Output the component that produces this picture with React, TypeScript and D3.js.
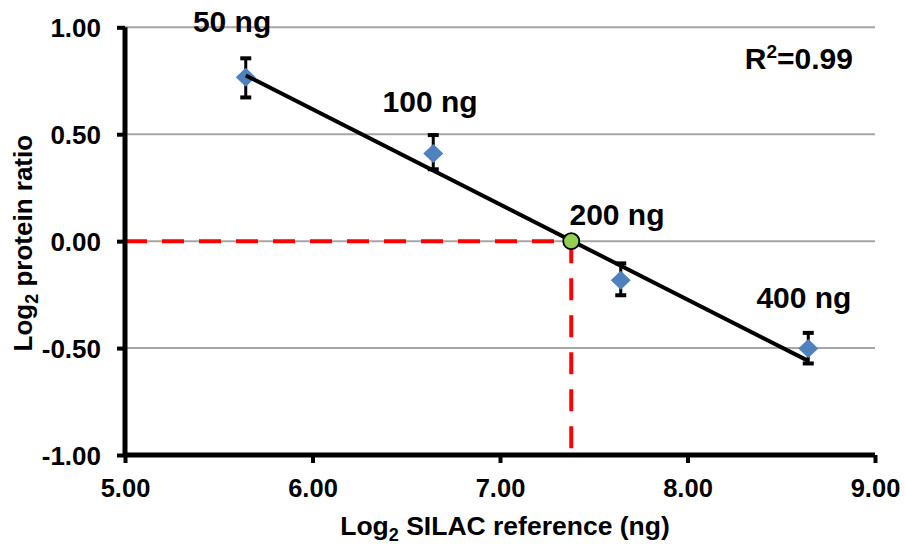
import React, { useEffect, useRef } from "react";
import * as d3 from "d3";

// amounts of SILAC reference spiked in, log2 of them, and the measured log2 ratio
const amounts = ["50 ng", "100 ng", "200 ng", "400 ng"];
const log2Ref = [5.644, 6.644, 7.644, 8.644];
const log2Ratio = [0.766, 0.41, -0.183, -0.502];
const errLow = [0.672, 0.336, -0.253, -0.572];
const errHigh = [0.855, 0.496, -0.104, -0.429];

// fitted line ends and where it crosses zero
const fitX = [5.644, 8.644];
const fitY = [0.775, -0.56];
const crossX = 7.38;
const crossY = 0;

// label anchors, in data units
const labelX = [5.571, 6.627, 7.624, 8.621];
const labelY = [0.978, 0.604, 0.075, -0.313];

const xTicks = [5, 6, 7, 8, 9];
const yTicks = [-1, -0.5, 0, 0.5, 1];
const gridTicks = [-0.5, 0, 0.5, 1];

const W = 906;
const H = 546;
const FONT = "'Liberation Sans', Arial, sans-serif";

// excel style: plain hyphen for negatives
const fmt = (d: number) => d3.format(".2f")(d).replace("\u2212", "-");

const App = () => {
    const svgRef = useRef<SVGSVGElement | null>(null);

    useEffect(() => {
        const svg = d3.select(svgRef.current);
        svg.selectAll("*").remove();

        const x = d3.scaleLinear().domain([5, 9]).range([125, 875]);
        const y = d3.scaleLinear().domain([-1, 1]).range([455, 27.3]);

        // gridlines
        svg.append("g")
            .selectAll("line")
            .data(gridTicks)
            .join("line")
            .attr("x1", x(5))
            .attr("x2", x(9))
            .attr("y1", (d) => y(d))
            .attr("y2", (d) => y(d))
            .attr("stroke", "#a6a6a6")
            .attr("stroke-width", 2);

        // red guide lines to the 200 ng point
        const guides = svg.append("g")
            .attr("stroke", "#ff0000")
            .attr("stroke-width", 4)
            .attr("stroke-dasharray", "22 15");
        guides.append("line")
            .attr("x1", x(5))
            .attr("x2", x(crossX))
            .attr("y1", y(crossY))
            .attr("y2", y(crossY));
        guides.append("line")
            .attr("x1", x(crossX))
            .attr("x2", x(crossX))
            .attr("y1", y(crossY))
            .attr("y2", y(-1));

        // axes
        const yAxis = svg.append("g")
            .attr("transform", `translate(${x(5)},0)`)
            .call(d3.axisLeft(y).tickValues(yTicks).tickSize(8).tickFormat(fmt));
        const xAxis = svg.append("g")
            .attr("transform", `translate(0,${y(-1)})`)
            .call(d3.axisBottom(x).tickValues(xTicks).tickSize(8).tickFormat(fmt));

        [yAxis, xAxis].forEach((ax) => {
            ax.select(".domain").attr("stroke", "#000").attr("stroke-width", 5);
            ax.selectAll(".tick line").attr("stroke", "#000").attr("stroke-width", 4);
            ax.selectAll("text")
                .attr("fill", "#000")
                .style("font-family", FONT)
                .style("font-weight", "bold");
        });
        yAxis.select(".domain").attr("d", `M0,${y(1)}V${y(-1)}`);
        xAxis.select(".domain").attr("d", `M${x(5)},0H${x(9)}`);
        yAxis.selectAll("text").style("font-size", "26px").attr("x", -24).attr("dy", "0.36em");
        xAxis.selectAll("text").style("font-size", "25.5px").attr("y", 24).attr("dy", "0.71em");

        // error bars
        const idx = d3.range(log2Ref.length);
        const bars = svg.append("g").attr("stroke", "#000");
        bars.selectAll("line.v")
            .data(idx)
            .join("line")
            .attr("class", "v")
            .attr("x1", (i) => x(log2Ref[i]))
            .attr("x2", (i) => x(log2Ref[i]))
            .attr("y1", (i) => y(errLow[i]))
            .attr("y2", (i) => y(errHigh[i]))
            .attr("stroke-width", 3);
        bars.selectAll("line.cap")
            .data(idx.flatMap((i) => [[i, errLow[i]], [i, errHigh[i]]]))
            .join("line")
            .attr("class", "cap")
            .attr("x1", (d) => x(log2Ref[d[0]]) - 5.5)
            .attr("x2", (d) => x(log2Ref[d[0]]) + 5.5)
            .attr("y1", (d) => y(d[1]))
            .attr("y2", (d) => y(d[1]))
            .attr("stroke-width", 4);

        // diamonds
        svg.append("g")
            .selectAll("path")
            .data(idx)
            .join("path")
            .attr("transform", (i) => `translate(${x(log2Ref[i])},${y(log2Ratio[i])})`)
            .attr("d", "M0,-9.5L10,0L0,9.5L-10,0Z")
            .attr("fill", "#4f81bd");

        // fitted line
        const line = d3.line<number>()
            .x((i) => x(fitX[i]))
            .y((i) => y(fitY[i]));
        svg.append("path")
            .attr("d", line([0, 1]))
            .attr("fill", "none")
            .attr("stroke", "#000")
            .attr("stroke-width", 4);

        // zero crossing marker
        svg.append("circle")
            .attr("cx", x(crossX))
            .attr("cy", y(crossY))
            .attr("r", 8)
            .attr("fill", "#92d050")
            .attr("stroke", "#000")
            .attr("stroke-width", 1.8);

        // amount labels
        svg.append("g")
            .selectAll("text")
            .data(idx)
            .join("text")
            .attr("x", (i) => x(labelX[i]))
            .attr("y", (i) => y(labelY[i]))
            .attr("text-anchor", "middle")
            .style("font-family", FONT)
            .style("font-weight", "bold")
            .style("font-size", "30px")
            .text((i) => amounts[i]);

        // R squared
        const r2 = svg.append("text")
            .attr("x", 853)
            .attr("y", 69)
            .attr("text-anchor", "end")
            .style("font-family", FONT)
            .style("font-weight", "bold")
            .style("font-size", "30px");
        r2.append("tspan").text("R");
        r2.append("tspan").attr("dy", -11).style("font-size", "19px").text("2");
        r2.append("tspan").attr("dy", 11).text("=0.99");

        // axis titles
        const xt = svg.append("text")
            .attr("x", 505)
            .attr("y", 535)
            .attr("text-anchor", "middle")
            .style("font-family", FONT)
            .style("font-weight", "bold")
            .style("font-size", "26.5px");
        xt.append("tspan").text("Log");
        xt.append("tspan").attr("dy", 6).style("font-size", "18px").text("2");
        xt.append("tspan").attr("dy", -6).text(" SILAC reference (ng)");

        const yt = svg.append("text")
            .attr("transform", `translate(32,${y(0) + 2}) rotate(-90)`)
            .attr("text-anchor", "middle")
            .style("font-family", FONT)
            .style("font-weight", "bold")
            .style("font-size", "26px");
        yt.append("tspan").text("Log");
        yt.append("tspan").attr("dy", 6).style("font-size", "18px").text("2");
        yt.append("tspan").attr("dy", -6).text(" protein ratio");
    });

    return (
        <svg
            ref={svgRef}
            width={W}
            height={H}
            style={{ position: "absolute", left: 0, top: 0, background: "#fff" }}
        />
    );
};

export default App;
